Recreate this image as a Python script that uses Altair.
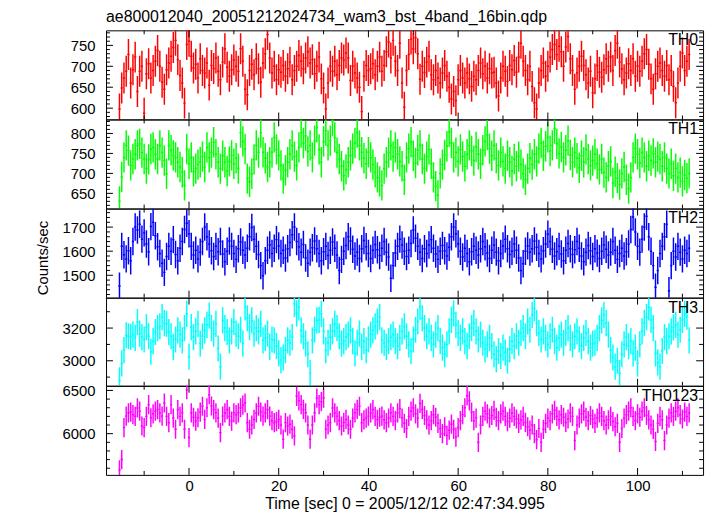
import altair as alt
import pandas as pd

FONT = "Liberation Sans"
T0 = -15.5   # centre of the first 0.5 s bin
DT = 0.5     # bin width (s)

TH0 = [598, 648, 672, 688, 728, 660, 692, 722, 640, 688, 700, 588,
       682, 706, 672, 690, 712, 738, 700, 662, 645, 692, 708, 724, 745, 762, 716, 678, 660, 612, 752, 760,
       724, 696, 705, 672, 718, 690, 684, 708, 655, 702, 695, 720, 688, 668, 710, 742, 698, 676, 692, 715,
       700, 688, 742, 712, 645, 632, 690, 705, 680, 718, 694, 662, 708, 730, 776, 720, 684, 700, 668, 692,
       686, 702, 676, 694, 710, 668, 690, 700, 726, 712, 694, 720, 735, 708, 716, 682, 700, 722, 670, 648,
       598, 660, 700, 688, 712, 680, 702, 720, 715, 732, 720, 666, 700, 684, 672, 650, 592, 676, 702, 690,
       694, 706, 680, 700, 722, 688, 702, 735, 758, 720, 762,
       712, 690, 755, 660, 602,
       690, 728, 765, 742, 768, 730, 669, 700, 685, 710, 724, 680, 668, 690, 672, 660, 684, 702, 676, 650,
       622, 640, 618, 668, 690, 672, 660, 684, 670, 652, 676, 668, 690, 708, 682, 700, 672, 694, 684, 686,
       660, 629, 672, 700, 688, 664, 702, 692, 714, 686, 722, 755, 712, 690, 668, 700, 652, 613, 598, 660,
       690, 708, 676, 700, 722, 740, 752, 728, 748, 735, 700, 746, 771, 718, 690, 645, 684, 700, 724, 702,
       680, 660, 688, 637, 670, 702, 686, 674, 692, 718, 700, 722, 690, 738, 755, 710, 694, 668, 684, 706,
       690, 718, 676, 700, 688, 712, 730, 740, 705, 670, 645, 682, 700, 708, 690, 676, 702, 668, 690, 652,
       613, 660, 700, 732, 690, 712, 728]

TH1 = [630, 691, 740, 770, 757, 720, 736, 748, 770, 774, 752, 736, 712, 735, 761, 765, 748, 736, 770, 752,
       732, 699, 770, 758, 745, 740, 728, 716, 703, 670, 761, 724, 740, 705, 712, 722, 728, 742, 716, 765,
       740, 752, 778, 748, 728, 712, 744, 728, 706, 730, 745, 724, 738, 712, 802, 780, 761, 687, 679, 699,
       735, 770, 752, 802, 753, 738, 716, 728, 752, 790, 760, 745, 720, 687, 708, 728, 748, 770, 742, 720,
       765, 802, 776, 794, 755, 770, 740, 782, 815, 760, 728, 780, 807, 770, 782, 831, 790, 752, 736, 718,
       695, 710, 728, 745, 762, 776, 802, 770, 753, 738, 724, 753, 740, 722, 703, 690, 680, 670, 712, 728,
       752, 770, 742, 765,
       748, 730, 718, 684, 740, 762, 778, 744, 726, 758, 770, 736, 712, 742, 760, 724, 690, 668, 645, 700,
       722, 746, 768, 804, 776, 740, 752, 730, 760, 742, 718, 748, 770, 756, 732, 766, 748, 724, 758, 780,
       796, 762, 744, 770, 738, 720, 752, 730, 712, 744, 728, 706, 736, 718, 742, 722, 700, 684, 712, 738,
       722, 748, 730, 762, 776, 744, 768, 790, 756, 770, 812, 774, 750, 766, 740, 758, 782, 746, 728, 752,
       738, 714, 744, 728, 760, 736, 720, 732, 748, 724, 710, 736, 702, 690, 718, 730, 676, 704, 688, 672,
       700, 716, 684, 662, 690, 740, 762, 748, 726, 752, 740, 718, 744, 732, 750, 728, 742, 736, 718, 740,
       712, 700, 724, 694, 712, 690, 702, 680, 696, 688, 700]

TH2 = [1455, 1620, 1585, 1568, 1602, 1560, 1640, 1700, 1688, 1712, 1650, 1676, 1630, 1598, 1702, 1720, 1664, 1618, 1590, 1550,
       1512, 1578, 1620, 1600, 1648, 1586, 1560, 1612, 1640, 1690, 1716, 1672, 1620, 1584, 1604, 1568, 1596, 1640, 1700, 1660,
       1630, 1602, 1578, 1620, 1598, 1640, 1588, 1556, 1600, 1642, 1620, 1590, 1566, 1610, 1638, 1604, 1584, 1612, 1660, 1698,
       1650, 1620, 1586, 1540, 1498, 1560, 1604, 1626, 1590, 1612, 1648, 1622, 1590, 1604, 1572, 1610, 1636, 1668, 1700, 1640,
       1618, 1596, 1628, 1572, 1550, 1596, 1614, 1642, 1610, 1590, 1560, 1598, 1620, 1582, 1604, 1638, 1612, 1584, 1520, 1566,
       1600, 1624, 1660, 1642, 1608, 1580, 1596, 1570, 1610, 1644, 1618, 1590, 1570, 1604, 1628, 1606, 1582, 1612, 1640, 1596,
       1576, 1488, 1540, 1592, 1620, 1650, 1626, 1600, 1578, 1604, 1632, 1688, 1654, 1620, 1596, 1570, 1610, 1590, 1626, 1648,
       1612, 1588, 1566, 1600, 1624, 1602, 1580, 1616, 1660, 1700, 1672, 1630, 1600, 1576, 1612, 1590, 1556, 1598, 1620, 1604,
       1584, 1610, 1640, 1618, 1592, 1570, 1604, 1626, 1596, 1560, 1590, 1622, 1650, 1610, 1586, 1600, 1630, 1604, 1572, 1520,
       1548, 1600, 1622, 1596, 1610, 1642, 1616, 1590, 1568, 1602, 1630, 1670, 1640, 1608, 1580, 1598, 1620, 1588, 1560, 1604,
       1632, 1610, 1586, 1606, 1640, 1612, 1580, 1556, 1596, 1624, 1602, 1578, 1610, 1592, 1570, 1600, 1626, 1608, 1584, 1596,
       1640, 1604, 1566, 1590, 1612, 1580, 1598, 1630, 1690, 1742, 1680, 1620, 1596, 1650, 1700, 1745, 1660, 1600, 1540, 1450,
       1520, 1590, 1620, 1660, 1712, 1436, 1540, 1600, 1576, 1620, 1596, 1568, 1604, 1590, 1612]

TH3 = [2880, 2984, 3065, 3156, 3150, 3146, 3160, 3140, 3237, 3166, 3145, 3130, 3206, 3150, 3055, 3120, 3176, 3200, 3210, 3267,
       3230, 3226, 3176, 3150, 3085, 3130, 3186, 3160, 3125, 3200, 3287, 3025, 3206, 3145, 3180, 3226, 3105, 3150, 3186, 3220,
       3277, 3200, 3166, 3226, 3075, 2964, 3247, 3200, 3176, 3125, 3180, 3237, 3166, 3150, 3190, 3105, 3327, 3260, 3206, 3247,
       3166, 3200, 3180, 3226, 3125, 3140, 3166, 3085, 3130, 3125, 3090, 3045, 3004, 3020, 3065, 3125, 3110, 3145, 3348, 3290,
       3327, 3186, 3150, 3105, 3040, 2924, 3125, 3190, 3247, 3250, 3287, 3180, 3065, 3110, 3145, 3180, 3226, 3200, 3150, 3105,
       3120, 3145, 3160, 3186, 3120, 3045, 3110, 3166, 3085, 3120, 3065, 3130, 3160, 3186, 3210, 3240, 3267, 3125, 3110, 3085,
       3120, 3145,
       3160, 3120, 3090, 3140, 3180, 3210, 3150, 3100, 3060, 3130, 3190, 3240, 3330, 3260, 3200, 3150, 3180, 3140, 3100, 3160,
       3200, 3120, 3080, 3040, 3100, 3180, 3250, 3290, 3220, 3170, 3140, 3180, 3120, 3090, 3150, 3200, 3230, 3180, 3130, 3160,
       3110, 3070, 3100, 3140, 3090, 3040, 3010, 3060, 3030, 3080, 3050, 3000, 3070, 3120, 3090, 3150, 3110, 3170, 3200, 3150,
       3240, 3190, 3280, 3320, 3230, 3170, 3130, 3180, 3140, 3100, 3150, 3190, 3120, 3080, 3140, 3160, 3110, 3170, 3200, 3140,
       3100, 3150, 3180, 3130, 3090, 3140, 3170, 3120, 3080, 3105, 3110, 3140, 3200, 3247, 3280, 3230, 3160, 3065, 3020, 2964,
       3000, 2924, 3040, 3100, 3145, 3090, 3120, 3045, 3080, 2984, 3100, 3180, 3230, 3267, 3327, 3250, 3200, 3045, 2990, 2964,
       3060, 3145, 3120, 3150, 3180, 3206, 3220, 3160, 3190, 3250, 3287, 3270, 3125]

TH0123 = [5580, 5700, 6070, 6203, 6240, 6250, 6220, 6200, 6298, 6260, 6089, 6070, 6200, 6336, 6184, 6230, 6260, 6279, 6240, 6203,
          6355, 6200, 6127, 6336, 6180, 6051, 6279, 6200, 6241, 6051, 6508, 5955, 6241, 6190, 6146, 6184, 6250, 6317, 6165, 6300,
          6451, 6320, 6279, 6241, 6180, 6012, 6203, 6240, 6279, 6200, 6146, 6241, 6220, 6241, 6300, 6330, 6355, 6127, 6051, 6100,
          6165, 6240, 6317, 6250, 6203, 6240, 6279, 6203, 6150, 6127, 6140, 6165, 6100, 5936, 6127, 6089, 6110, 6051, 5974, 6432,
          6380, 6336, 6280, 6241, 6100, 5936, 6100, 6241, 6412, 6336, 6370, 6412, 6051, 6100, 6127, 6298, 6240, 6203, 6150, 6089,
          6130, 6165, 6100, 6051, 6180, 6241, 6280, 6317, 6127, 6160, 6180, 6203, 6240, 6279, 6200, 6165, 6190, 6203, 6160, 6127,
          6180, 6241,
          6200, 6150, 6240, 6290, 6180, 6120, 6060, 6200, 6260, 6300, 6230, 6180, 6350, 6280, 6210, 6160, 6100, 6150, 6220, 6190,
          6120, 6060, 6000, 6080, 5980, 6040, 6110, 6050, 5960, 6070, 6150, 6220, 6300, 6440, 6380, 6250, 6150, 6180, 5900, 6100,
          6200, 6260, 6230, 6180, 6210, 6270, 6190, 6150, 6230, 6260, 6200, 6140, 6180, 6240, 6200, 6170, 6120, 6160, 6200, 6130,
          6080, 6040, 6100, 6000, 5930, 6060, 5900, 6050, 6120, 6180, 6150, 6230, 6270, 6200, 6160, 6220, 6190, 6130, 6170, 6240,
          6200, 5920, 6100, 6180, 6230, 6260, 6190, 6150, 6210, 6170, 6120, 6180, 6240, 6200, 6150, 6100, 6160, 6200, 6140, 6080,
          6120, 5900, 6060, 6180, 6220, 6260, 6300, 6200, 6150, 6230, 6190, 6260, 6300, 6210, 6160, 6100, 6050, 5910, 6120, 6200,
          6160, 5920, 6100, 6180, 6240, 6200, 6260, 6300, 6220, 6170, 6250, 6200, 6240]

SERIES = [TH0, TH1, TH2, TH3, TH0123]
NAMES = ["TH0", "TH1", "TH2", "TH3", "TH0123"]
ERRORS = [37, 38, 57, 80, 111]          # 1-sigma half length of the error bars
COLORS = ["#ff0000", "#00ff00", "#0000ff", "#00ffff", "#ff00ff"]
YDOMAINS = [[573, 786], [612, 835], [1407, 1777], [2847, 3386], [5523, 6554]]
YMAJOR = [[600, 650, 700, 750], [650, 700, 750, 800], [1500, 1600, 1700], [3000, 3200], [6000, 6500]]
YMINOR_STEP = [10, 10, 20, 100, 100]
XDOMAIN = [-18.5, 114.6]
XLABELS = [0, 20, 40, 60, 80, 100]
XMINOR = [-10, 10, 30, 50, 70, 90, 110]
HEIGHTS = [90, 90, 90, 89, 90]
W = 603
TITLE = "ae800012040_20051212024734_wam3_bst_4band_16bin.qdp"
XTITLE = "Time [sec] 0 = 2005/12/12 02:47:34.995"
YTITLE = "Counts/sec"

MAJ = 7
MIN = 4
LW = 1.5


def panel(k):
    vals = SERIES[k]
    e = ERRORS[k]
    H = HEIGHTS[k]
    n = len(vals)
    t = [T0 + DT * i for i in range(n)]
    df = pd.DataFrame({"t": t, "v": vals})
    df["lo"] = df["v"] - e
    df["hi"] = df["v"] + e
    df["t0"] = df["t"] - DT / 2
    df["t1"] = df["t"] + DT / 2

    last = k == len(SERIES) - 1
    xs = alt.Scale(domain=XDOMAIN, nice=False, zero=False)
    ys = alt.Scale(domain=YDOMAINS[k], nice=False, zero=False)
    if last:
        xaxis = alt.Axis(values=XLABELS, format="d", labelPadding=4, titlePadding=2,
                         labelOverlap=False, labelFlush=False)
        xtitle = XTITLE
    else:
        xaxis = None
        xtitle = None
    yaxis = alt.Axis(values=YMAJOR[k], format="d", labelPadding=11, labelOverlap=False, labelFlush=False)

    def X(f):
        return alt.X(f, scale=xs, axis=xaxis, title=xtitle)

    def Y(f):
        return alt.Y(f, scale=ys, axis=yaxis, title=None)

    col = COLORS[k]
    err = alt.Chart(df).mark_rule(strokeWidth=LW, clip=True).encode(
        x=X("t:Q"), y=Y("lo:Q"), y2="hi:Q", color=alt.value(col))
    step = alt.Chart(df).mark_rule(strokeWidth=LW, clip=True).encode(
        x=X("t0:Q"), x2="t1:Q", y=Y("v:Q"), color=alt.value(col))

    lo, hi = YDOMAINS[k]
    st = YMINOR_STEP[k]
    start = (lo // st + 1) * st
    minor = [v for v in range(int(start), int(hi) + 1, st) if v not in YMAJOR[k]]
    ymaj = pd.DataFrame({"v": YMAJOR[k]})
    ymin = pd.DataFrame({"v": minor})
    xmaj = pd.DataFrame({"t": XLABELS})
    xmin = pd.DataFrame({"t": XMINOR})

    tick = dict(strokeWidth=1, clip=True)
    layers = [err, step]
    for d, L in ((ymaj, MAJ), (ymin, MIN)):
        layers.append(alt.Chart(d).mark_rule(**tick).encode(
            y=Y("v:Q"), x=alt.value(0), x2=alt.value(L), color=alt.value("black")))
        layers.append(alt.Chart(d).mark_rule(**tick).encode(
            y=Y("v:Q"), x=alt.value(W), x2=alt.value(W - L), color=alt.value("black")))
    for d, L in ((xmaj, MAJ), (xmin, MIN)):
        layers.append(alt.Chart(d).mark_rule(**tick).encode(
            x=X("t:Q"), y=alt.value(0), y2=alt.value(L), color=alt.value("black")))
        layers.append(alt.Chart(d).mark_rule(**tick).encode(
            x=X("t:Q"), y=alt.value(H), y2=alt.value(H - L), color=alt.value("black")))

    lab = pd.DataFrame({"label": [NAMES[k]]})
    layers.append(alt.Chart(lab).mark_text(align="right", baseline="top", font=FONT, fontSize=16,
                                           color="black").encode(
        x=alt.value(W - 5), y=alt.value(2), text="label:N"))
    if k == 0:
        tl = pd.DataFrame({"label": [TITLE]})
        layers.append(alt.Chart(tl).mark_text(align="left", baseline="top", font=FONT, fontSize=16,
                                              color="black").encode(
            x=alt.value(0), y=alt.value(-21), text="label:N"))
    if k == 2:
        yl = pd.DataFrame({"label": [YTITLE]})
        layers.append(alt.Chart(yl).mark_text(align="center", baseline="middle", font=FONT, fontSize=15,
                                              angle=270, color="black").encode(
            x=alt.value(-64), y=alt.value(50), text="label:N"))
    return alt.layer(*layers).properties(width=W, height=H)


chart = alt.vconcat(*[panel(k) for k in range(len(SERIES))], spacing=0, bounds="flush").properties(
    padding={"left": 27, "top": -2, "right": 5, "bottom": 5},
).configure_view(stroke="black", strokeWidth=1).configure_axis(
    grid=False, ticks=False, tickSize=0, domain=False,
    labelFont=FONT, labelFontSize=15, labelColor="black",
    titleFont=FONT, titleFontSize=16, titleFontWeight="normal", titleColor="black",
)

chart.save("out.html", embed_options={"renderer": "svg", "actions": False})
